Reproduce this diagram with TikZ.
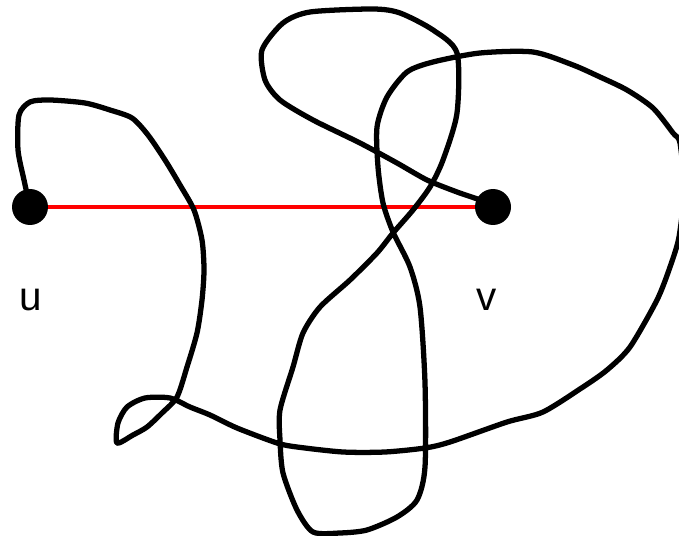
\documentclass[tikz,border=0pt]{standalone}
\usepackage{fontspec}
\setmainfont{Liberation Sans}
\usetikzlibrary{positioning}

\begin{document}
\begin{tikzpicture}[
    x=0.02cm, y=-0.02cm,
    vertex/.style={circle, fill=black, inner sep=0pt, minimum size=0.72cm},
    vlabel/.style={font=\fontsize{23}{27}\selectfont, inner sep=0pt},
    edge/.style={red, line width=2.3pt},
    wiggle/.style={black, line width=3pt, line join=round, line cap=round},
]
\useasboundingbox (0,0) rectangle (679,536);
\node[vertex] (u) at (30,207) {};
\node[vertex] (v) at (493,207) {};
\node[vlabel] (ulabel) at (31,300) {u};
\node[vlabel] (vlabel) at (487,300) {v};

\draw[edge] (u) -- (v);

\draw[wiggle] plot[smooth, tension=0.45] coordinates {
    (u.center) (24,180) (18,150) (19,115) (30,102) (50,100) (85,103) (110,110)
    (132,118) (148,135) (165,160) (180,185) (194,210) (202,240) (204,270)
    (202,300) (197,333) (187,367) (177,397) (162,413) (147,427) (133,435)
    (117,443) (118,423) (127,407) (145,398) (170,398) (190,407) (210,415)
    (237,428) (277,443) (297,447) (343,452) (385,452) (425,448) (450,442)
    (507,422) (543,412) (583,387) (607,370) (630,347) (657,300) (670,267)
    (679,237) (684,190) (680,143) (673,133) (653,108) (627,90) (600,77)
    (573,65) (533,52) (480,53) (433,62) (407,72) (387,97) (377,127)
    (378,167) (383,203) (393,232) (410,267) (420,307) (425,383) (425,467)
    (417,500) (397,517) (367,530) (340,533) (313,532) (297,510) (283,473)
    (280,440) (280,410) (293,367) (303,333) (320,307) (350,280) (377,253)
    (393,233) (413,210) (430,187) (443,160) (457,113) (457,53) (433,30)
    (400,13) (373,9) (310,12) (283,23) (262,50) (265,80) (280,100)
    (313,120) (360,143) (397,163) (427,180) (457,192) (480,200) (v.center)};
\end{tikzpicture}
\end{document}
